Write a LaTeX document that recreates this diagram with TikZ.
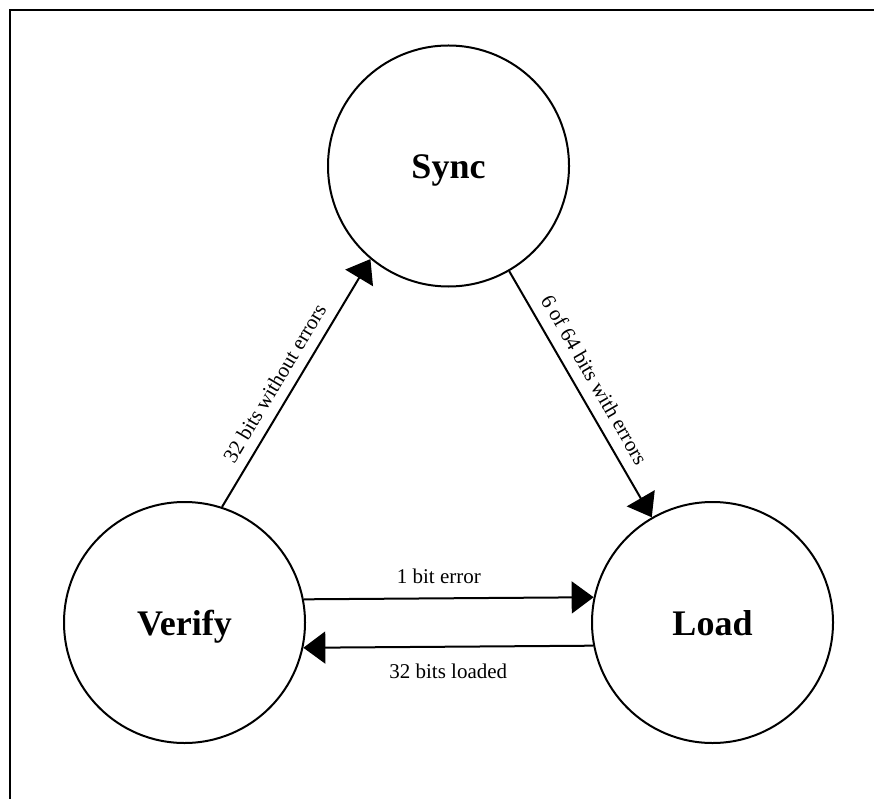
\documentclass[tikz,border=0pt]{standalone}
\usepackage{fontspec}
\setmainfont{Liberation Serif}
\usetikzlibrary{arrows.meta}
\tikzset{
  state/.style={circle, draw, line width=2pt, minimum size=241pt, inner sep=0pt,
    font=\fontsize{36}{40}\selectfont\bfseries, text height=25pt, text depth=0pt},
  trans/.style={line width=2pt, -{Triangle[length=22pt,width=32pt]}},
  lbl/.style={font=\fontsize{21}{25}\selectfont, inner sep=0pt},
  frame/.style={line width=2pt}
}
\begin{document}
\begin{tikzpicture}[x=1pt,y=-1pt]
\useasboundingbox (0,0) rectangle (874,799);
\draw[frame] (10,805) -- (10,10) -- (880,10);
\node[state] (S) at (448.5,166) {Sync};
\node[state] (V) at (184.5,622.5) {Verify};
\node[state] (L) at (712.5,622.5) {Load};
\draw[trans] (V.72) -- node[lbl, sloped, above=10pt, pos=0.46] (l1) {32 bits without errors} (S.230);
\draw[trans] (S.300) -- node[lbl, sloped, above=11pt, pos=0.48] (l2) {6 of 64 bits with errors} (L.120);
\draw[trans] (V.11.73) -- node[lbl, above=14pt, pos=0.466] (l3) {1 bit error} (L.168.27);
\draw[trans] (L.191.73) -- node[lbl, below=16pt, pos=0.5] (l4) {32 bits loaded} (V.348.27);
\end{tikzpicture}
\end{document}
